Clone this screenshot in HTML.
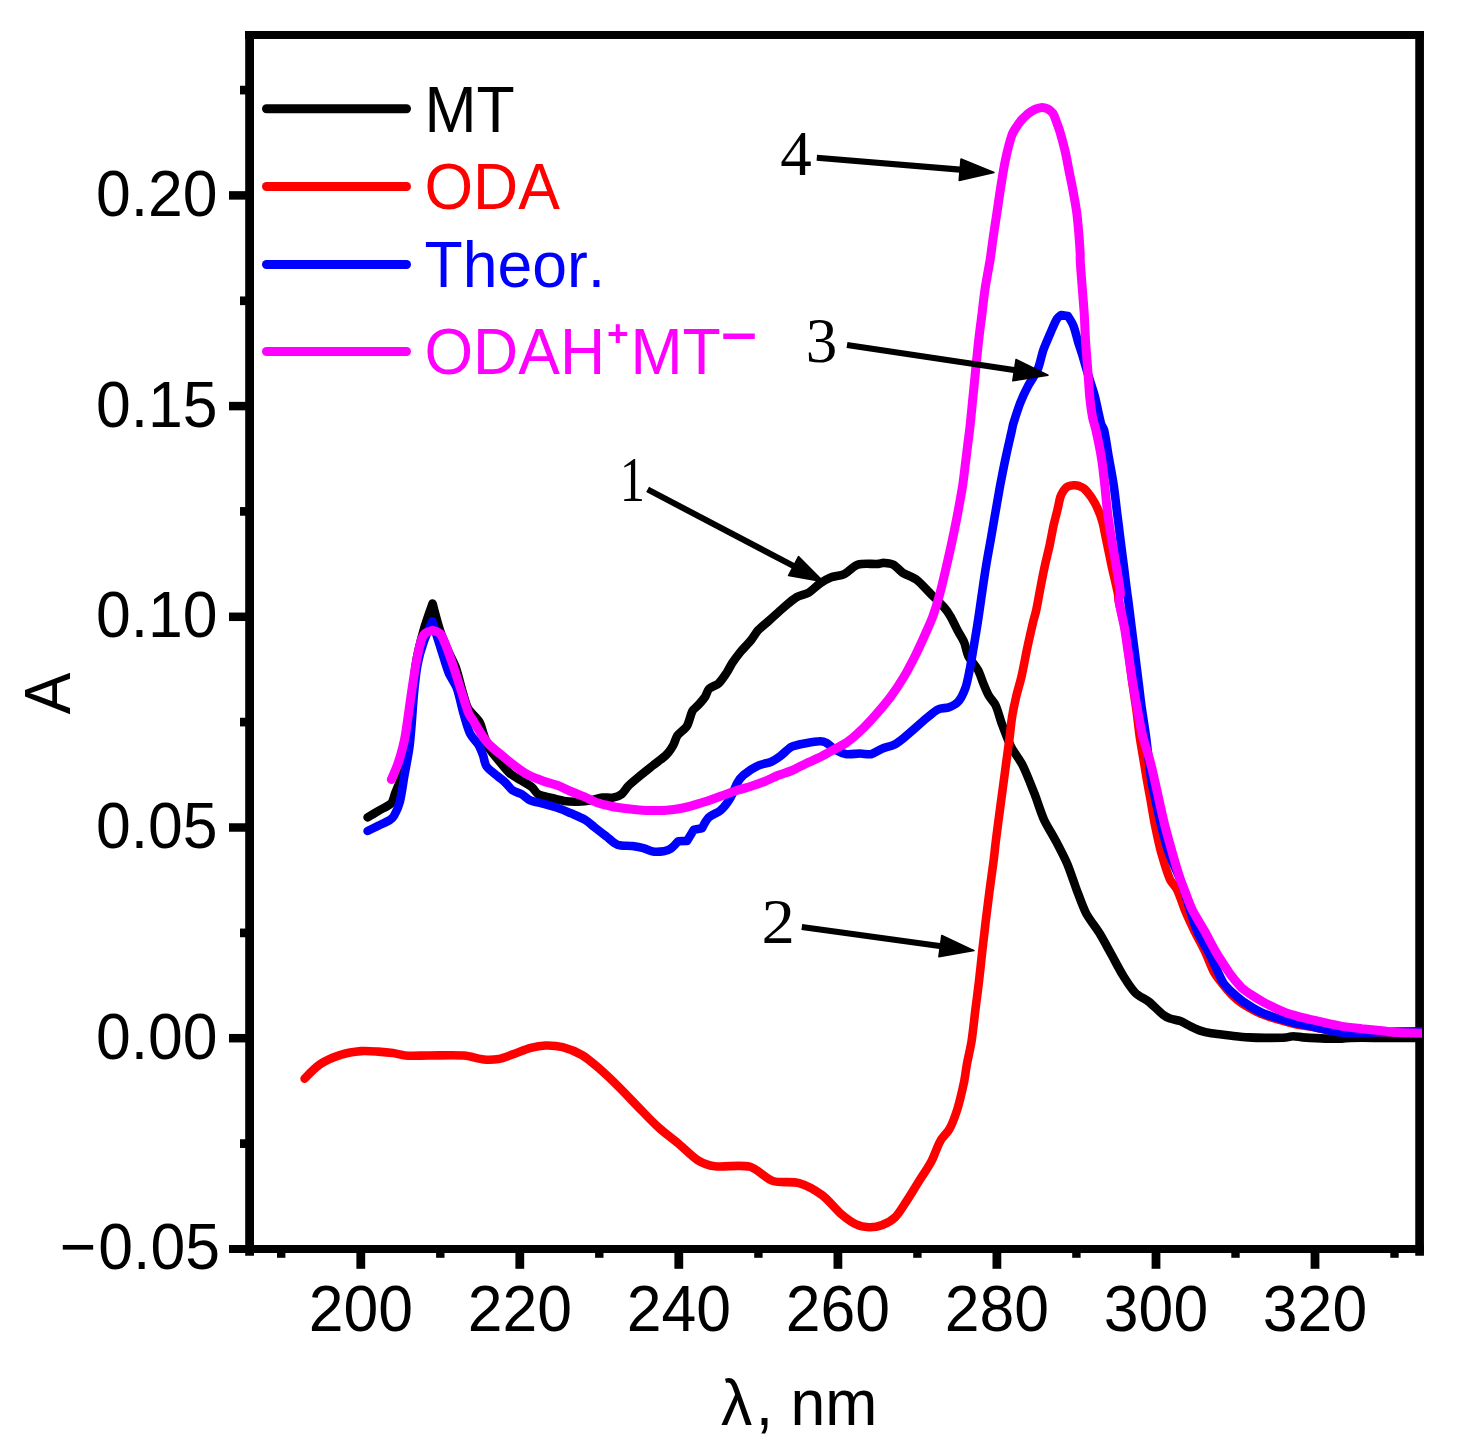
<!DOCTYPE html>
<html lang="en"><head><meta charset="utf-8"><title>UV absorption spectra</title>
<style>html,body{margin:0;padding:0;background:#fff}body{width:1465px;height:1453px;overflow:hidden}svg{display:block}text{font-family:"Liberation Sans",Arial,sans-serif;font-size:62.5px;fill:#000;font-kerning:none}.ser{font-family:"Liberation Serif","Times New Roman",serif;font-size:63px}.c{fill:none;stroke-linejoin:round;stroke-linecap:round;stroke-width:8.6}</style></head><body>
<svg width="1465" height="1453" viewBox="0 0 1465 1453">
<rect x="0" y="0" width="1465" height="1453" fill="#fff"/>
<defs><clipPath id="cp"><rect x="245" y="31" width="1177" height="1222"/></clipPath></defs>
<g stroke="#000" fill="none" stroke-linecap="butt">
<line x1="245" y1="35" x2="1424" y2="35" stroke-width="8"/>
<line x1="229" y1="1249" x2="1424" y2="1249" stroke-width="7.8"/>
<line x1="249.6" y1="31" x2="249.6" y2="1255.7" stroke-width="8.8"/>
<line x1="1419.6" y1="31" x2="1419.6" y2="1255.7" stroke-width="8.7"/>
<line x1="229" y1="195.4" x2="246" y2="195.4" stroke-width="8.5"/>
<line x1="229" y1="406.1" x2="246" y2="406.1" stroke-width="8.5"/>
<line x1="229" y1="616.8" x2="246" y2="616.8" stroke-width="8.5"/>
<line x1="229" y1="827.5" x2="246" y2="827.5" stroke-width="8.5"/>
<line x1="229" y1="1038.2" x2="246" y2="1038.2" stroke-width="8.5"/>
<line x1="240" y1="90.1" x2="246" y2="90.1" stroke-width="8.7"/>
<line x1="240" y1="300.8" x2="246" y2="300.8" stroke-width="8.7"/>
<line x1="240" y1="511.4" x2="246" y2="511.4" stroke-width="8.7"/>
<line x1="240" y1="722.1" x2="246" y2="722.1" stroke-width="8.7"/>
<line x1="240" y1="932.9" x2="246" y2="932.9" stroke-width="8.7"/>
<line x1="240" y1="1143.6" x2="246" y2="1143.6" stroke-width="8.7"/>
<line x1="360.8" y1="1252" x2="360.8" y2="1268.8" stroke-width="8.8"/>
<line x1="519.8" y1="1252" x2="519.8" y2="1268.8" stroke-width="8.8"/>
<line x1="678.8" y1="1252" x2="678.8" y2="1268.8" stroke-width="8.8"/>
<line x1="837.9" y1="1252" x2="837.9" y2="1268.8" stroke-width="8.8"/>
<line x1="996.9" y1="1252" x2="996.9" y2="1268.8" stroke-width="8.8"/>
<line x1="1156.0" y1="1252" x2="1156.0" y2="1268.8" stroke-width="8.8"/>
<line x1="1315.0" y1="1252" x2="1315.0" y2="1268.8" stroke-width="8.8"/>
<line x1="281.2" y1="1252" x2="281.2" y2="1257.8" stroke-width="8.4"/>
<line x1="440.3" y1="1252" x2="440.3" y2="1257.8" stroke-width="8.4"/>
<line x1="599.3" y1="1252" x2="599.3" y2="1257.8" stroke-width="8.4"/>
<line x1="758.4" y1="1252" x2="758.4" y2="1257.8" stroke-width="8.4"/>
<line x1="917.4" y1="1252" x2="917.4" y2="1257.8" stroke-width="8.4"/>
<line x1="1076.4" y1="1252" x2="1076.4" y2="1257.8" stroke-width="8.4"/>
<line x1="1235.5" y1="1252" x2="1235.5" y2="1257.8" stroke-width="8.4"/>
<line x1="1394.5" y1="1252" x2="1394.5" y2="1257.8" stroke-width="8.4"/>
</g>
<g clip-path="url(#cp)">
<path class="c" stroke="#000" d="M367.6,817.4C367.6,817.4 375.4,812.7 378.5,810.8C382.1,808.6 388.4,806.2 391.3,803.2C393.3,801.1 393.9,796.4 395.0,793.7C396.5,789.8 399.0,783.9 400.5,780.0C401.9,776.2 404.7,770.4 405.3,766.4C407.7,751.1 409.4,727.4 411.0,712.0C412.4,698.5 413.8,677.7 415.8,664.3C417.2,654.8 420.7,640.5 423.3,631.3C425.5,623.3 432.6,603.5 432.6,603.5C432.6,603.5 437.7,623.5 440.3,631.3C442.3,637.3 446.1,646.1 448.6,651.9C450.5,656.3 454.2,662.8 455.8,667.4C458.3,674.6 460.8,685.9 463.0,693.2C464.3,697.6 465.9,704.7 468.2,708.7C470.7,713.0 477.0,717.8 479.6,722.1C481.5,725.3 482.4,731.0 483.7,734.5C485.1,738.4 486.9,744.5 489.0,748.0C491.6,752.4 496.9,758.3 500.2,762.3C502.8,765.5 506.6,770.5 509.7,773.2C512.5,775.6 517.5,778.2 520.6,780.1C523.7,782.0 528.7,784.6 531.6,786.9C533.8,788.6 535.8,792.8 538.2,794.2C541.3,796.0 547.0,796.7 550.5,797.6C554.3,798.6 560.2,800.4 564.1,801.0C568.0,801.6 573.9,801.8 577.8,801.7C581.7,801.6 587.6,801.0 591.4,800.3C594.6,799.8 599.2,798.0 602.4,797.6C605.4,797.2 610.2,798.2 613.3,797.6C615.8,797.2 619.5,795.7 621.5,794.2C623.9,792.4 626.2,788.1 628.3,786.0C631.2,783.1 636.1,779.1 639.2,776.5C643.0,773.3 649.0,768.6 652.9,765.5C656.7,762.4 663.0,758.1 666.5,754.6C668.9,752.3 671.7,747.9 673.3,745.1C674.8,742.5 675.7,737.9 677.4,735.5C679.7,732.4 685.0,729.2 687.0,725.9C689.4,722.1 690.3,714.9 692.5,710.9C693.5,708.9 696.7,706.9 698.2,705.2C700.2,702.9 703.3,699.5 705.0,697.0C706.5,694.8 707.3,690.6 709.1,688.8C711.3,686.6 716.4,685.5 718.7,683.3C721.5,680.7 724.7,675.6 726.9,672.4C728.6,669.8 730.6,665.5 732.3,662.9C734.5,659.6 738.1,654.9 740.5,651.9C743.5,648.3 748.5,643.3 751.4,639.7C753.5,637.1 756.0,632.5 758.3,630.1C761.1,627.1 766.1,623.3 769.2,620.5C773.1,617.1 778.9,611.6 782.8,608.3C786.6,605.1 792.2,599.9 796.5,597.3C799.7,595.4 805.6,594.5 808.8,592.6C812.2,590.5 816.4,585.9 819.7,583.7C822.6,581.7 827.3,578.8 830.6,577.5C834.3,576.1 840.7,575.8 844.3,574.1C848.5,572.1 853.4,565.9 857.9,564.6C863.5,562.9 872.6,564.3 878.4,563.9C879.9,563.8 882.1,562.9 883.7,562.9C886.4,563.1 890.8,563.3 893.2,564.6C896.4,566.2 899.8,570.8 902.8,572.8C906.4,575.1 913.0,577.0 916.4,579.6C920.8,582.9 926.2,589.4 930.1,593.2C933.9,597.1 940.1,602.8 943.7,606.9C945.9,609.4 948.9,613.6 950.5,616.5C952.7,620.2 955.4,626.3 957.4,630.1C959.2,633.6 962.7,638.7 964.2,642.4C965.8,646.1 966.5,652.4 968.3,656.0C970.4,660.3 975.6,665.6 977.8,669.7C979.9,673.3 981.7,679.5 983.3,683.3C984.8,686.9 986.9,692.3 988.8,695.6C990.4,698.5 994.2,702.2 995.6,705.2C997.9,710.1 999.8,718.3 1001.7,723.4C1004.2,730.1 1007.9,740.4 1011.1,746.8C1013.9,752.4 1020.0,760.0 1022.8,765.6C1026.6,773.3 1031.3,785.6 1034.5,793.7C1037.3,800.9 1040.7,812.3 1043.9,819.4C1046.7,825.6 1052.4,834.4 1055.6,840.5C1059.0,847.0 1064.3,857.1 1067.3,863.9C1070.3,871.0 1073.9,882.4 1076.6,889.7C1079.2,896.3 1082.7,906.7 1086.0,913.1C1089.3,919.4 1096.3,928.0 1100.0,934.1C1103.6,940.0 1108.4,949.2 1111.8,955.2C1115.1,961.2 1119.8,970.5 1123.5,976.3C1126.5,981.1 1131.1,988.6 1135.2,992.7C1138.5,996.1 1145.5,999.1 1149.2,1002.0C1153.4,1005.4 1159.0,1011.6 1163.3,1014.9C1165.0,1016.3 1168.0,1017.8 1170.0,1018.5C1172.8,1019.5 1177.5,1020.0 1180.3,1021.1C1183.4,1022.3 1187.6,1024.9 1190.6,1026.3C1193.5,1027.7 1197.9,1029.9 1201.0,1030.9C1203.8,1031.9 1208.3,1032.8 1211.3,1033.3C1214.2,1033.8 1218.7,1034.1 1221.6,1034.5C1224.5,1034.9 1229.0,1035.5 1231.9,1035.8C1236.5,1036.3 1243.6,1037.1 1248.3,1037.4C1253.1,1037.7 1260.5,1037.9 1265.3,1037.9C1271.1,1037.9 1280.0,1037.9 1285.8,1037.5C1287.8,1037.4 1290.7,1036.2 1292.6,1036.2C1295.5,1036.1 1300.0,1037.2 1302.9,1037.4C1309.1,1037.8 1318.8,1038.4 1325.1,1038.6C1329.9,1038.7 1337.3,1038.7 1342.1,1038.6C1344.5,1038.5 1348.2,1037.9 1350.6,1037.9C1360.3,1037.7 1375.1,1037.9 1384.8,1037.9C1396.9,1037.9 1427.4,1037.9 1427.4,1037.9"/>
<path class="c" stroke="#f00" d="M304.6,1078.6C304.6,1078.6 315.4,1067.3 320.6,1063.9C326.0,1060.4 335.3,1056.5 341.4,1054.6C346.8,1052.9 355.5,1051.6 361.1,1051.1C366.0,1050.7 373.4,1051.3 378.3,1051.6C382.5,1051.9 388.9,1052.5 393.0,1053.1C396.6,1053.6 401.8,1055.3 405.3,1055.5C411.6,1056.0 421.2,1055.5 427.5,1055.5C437.9,1055.5 453.9,1054.8 464.3,1055.5C470.0,1055.9 478.3,1058.9 484.0,1059.5C488.1,1059.9 494.6,1059.7 498.7,1059.0C503.1,1058.2 509.3,1055.5 513.5,1054.1C518.4,1052.4 525.7,1049.3 530.7,1047.9C534.8,1046.8 541.2,1045.6 545.4,1045.5C550.3,1045.4 557.9,1045.9 562.6,1047.2C568.4,1048.7 577.1,1052.2 582.3,1055.3C587.6,1058.4 594.8,1064.8 599.5,1068.8C605.3,1073.8 613.7,1081.9 619.1,1087.2C625.4,1093.5 634.6,1103.4 640.8,1109.7C645.8,1114.9 653.5,1123.0 658.9,1127.8C664.5,1132.9 673.8,1139.8 679.7,1144.7C684.9,1149.0 692.0,1156.7 697.8,1160.2C702.1,1162.9 709.7,1165.6 714.7,1166.2C724.5,1167.4 740.1,1164.3 749.7,1166.7C757.2,1168.6 765.7,1178.6 773.0,1181.0C780.0,1183.3 791.9,1181.0 799.0,1183.1C806.2,1185.1 816.3,1190.9 822.3,1195.3C828.2,1199.6 835.0,1208.7 840.5,1213.4C844.6,1216.9 851.2,1222.0 856.1,1224.3C859.4,1226.0 865.3,1227.1 869.0,1227.2C872.7,1227.3 878.5,1226.4 882.0,1225.1C886.0,1223.6 891.9,1220.3 895.0,1217.3C898.6,1213.9 902.6,1207.2 905.3,1203.0C909.2,1197.3 914.6,1188.2 918.3,1182.3C922.0,1176.4 928.0,1167.7 931.3,1161.5C934.3,1155.9 937.2,1146.4 940.4,1140.8C942.4,1137.1 947.4,1132.8 949.4,1129.1C952.3,1123.9 955.4,1115.3 957.2,1109.7C959.5,1102.4 962.1,1091.1 963.7,1083.7C964.9,1078.3 965.9,1069.8 966.9,1064.3C968.1,1057.8 970.4,1048.1 971.5,1041.6C972.8,1033.1 974.2,1019.9 975.2,1011.3C976.3,1002.8 978.0,989.6 979.0,981.1C980.0,972.5 981.4,959.4 982.3,950.8C983.3,942.2 984.8,929.1 985.8,920.5C986.9,912.0 988.5,898.8 989.6,890.3C990.7,881.7 992.6,868.6 993.7,860.0C994.4,854.5 995.2,846.0 995.9,840.5C997.1,830.5 999.2,815.3 1000.5,805.4C1001.8,795.4 1003.9,780.2 1005.2,770.2C1006.5,760.3 1008.6,745.1 1009.9,735.1C1010.5,730.1 1011.2,722.4 1012.0,717.5C1012.9,711.6 1014.7,702.8 1016.1,697.0C1017.4,691.1 1020.2,682.4 1021.5,676.5C1023.3,668.8 1025.4,656.9 1027.0,649.2C1028.6,641.5 1031.3,629.6 1033.1,621.9C1034.0,618.5 1035.6,613.4 1036.3,609.9C1037.7,603.5 1039.3,593.5 1040.6,587.0C1041.7,581.2 1043.4,572.3 1044.7,566.5C1045.9,560.7 1048.2,551.9 1049.5,546.0C1050.7,540.3 1052.3,531.3 1053.5,525.6C1054.6,520.9 1056.5,513.8 1057.6,509.2C1058.5,505.7 1059.3,500.3 1060.4,496.9C1060.9,495.2 1062.2,492.9 1063.1,491.4C1063.9,490.2 1065.3,488.3 1066.5,487.3C1067.5,486.6 1069.4,486.0 1070.6,485.7C1071.7,485.4 1073.5,485.2 1074.7,485.3C1076.1,485.4 1078.2,485.8 1079.5,486.2C1080.9,486.8 1083.1,487.7 1084.3,488.7C1086.5,490.7 1089.4,494.4 1091.1,496.9C1093.3,500.2 1096.3,505.5 1097.9,509.2C1099.6,512.9 1101.6,518.9 1102.7,522.8C1103.9,527.4 1105.1,534.6 1106.1,539.2C1107.7,547.0 1110.2,558.8 1111.8,566.5C1113.5,574.3 1116.4,586.0 1118.0,593.8C1118.3,595.5 1118.2,598.3 1118.5,600.0C1120.1,607.8 1123.2,619.5 1124.7,627.3C1126.1,635.0 1127.7,646.9 1128.8,654.6C1129.9,662.3 1131.1,674.2 1132.2,681.9C1133.3,689.6 1135.2,701.5 1136.3,709.2C1137.4,716.9 1138.6,728.8 1139.7,736.5C1140.5,742.3 1142.1,751.2 1143.1,757.0C1144.2,763.5 1145.8,773.4 1146.9,779.9C1147.8,784.8 1149.2,792.4 1150.1,797.3C1151.5,805.0 1153.4,816.9 1154.9,824.6C1156.5,832.4 1158.9,844.3 1161.0,851.9C1163.2,859.7 1166.7,871.7 1169.9,879.2C1171.4,882.6 1175.7,886.7 1177.3,890.0C1180.0,895.6 1182.7,904.8 1185.1,910.6C1187.6,916.6 1191.8,925.5 1194.6,931.3C1197.5,937.2 1202.4,946.0 1205.2,951.9C1207.9,957.7 1211.2,966.9 1214.2,972.6C1215.9,975.8 1219.4,980.1 1221.6,982.9C1224.4,986.4 1228.7,991.7 1231.9,994.9C1234.6,997.6 1239.1,1001.5 1242.3,1003.5C1247.9,1007.0 1256.7,1012.1 1262.9,1014.5C1271.4,1017.9 1285.0,1021.5 1293.9,1023.8C1298.4,1024.9 1305.4,1025.7 1310.0,1026.5C1316.7,1027.7 1326.8,1030.1 1333.6,1030.8C1343.2,1031.8 1358.0,1032.0 1367.7,1032.2C1385.3,1032.5 1430.0,1032.6 1430.0,1032.6"/>
<path class="c" stroke="#00f" d="M367.6,831.0C367.6,831.0 375.4,827.1 378.5,825.6C381.8,824.0 386.9,821.9 390.0,819.9C391.4,819.0 393.4,817.1 394.2,815.6C396.2,811.9 398.8,806.0 399.8,801.9C401.7,794.3 403.2,782.3 404.6,774.6C406.0,766.9 408.3,755.1 409.4,747.3C410.2,741.5 410.9,732.6 411.4,726.8C412.2,717.3 413.1,702.7 414.0,693.2C414.8,685.0 416.1,672.4 417.6,664.3C418.8,657.7 421.6,647.9 423.8,641.6C425.8,635.7 432.3,621.4 432.3,621.4C432.3,621.4 439.2,643.3 441.9,651.9C443.8,657.8 446.3,666.9 448.6,672.6C450.5,677.2 455.1,683.4 456.8,688.1C459.4,695.2 461.5,706.6 463.6,713.9C465.3,719.6 467.5,728.4 470.1,733.7C471.8,737.2 476.3,741.3 478.3,744.6C480.0,747.5 481.9,752.3 483.1,755.5C484.2,758.5 484.6,763.7 486.5,766.4C488.9,769.8 494.3,773.3 497.4,776.0C499.7,778.0 503.4,780.7 505.6,782.8C507.7,784.8 510.1,788.6 512.5,790.3C514.9,792.0 519.5,792.9 522.0,794.4C524.4,795.8 527.4,799.2 530.0,800.3C533.7,801.9 539.8,802.7 543.7,803.8C547.5,804.8 553.5,806.5 557.3,807.8C561.2,809.2 567.1,811.7 571.0,813.3C574.9,815.0 581.0,817.3 584.6,819.5C587.6,821.2 591.5,824.8 594.2,827.0C597.6,829.7 602.9,833.8 606.5,836.5C609.5,838.9 613.7,843.4 617.4,844.7C621.4,846.2 628.2,845.5 632.4,846.1C635.5,846.5 640.3,847.3 643.3,848.1C646.1,848.9 650.0,851.1 652.9,851.5C655.9,852.0 660.7,851.7 663.8,851.3C665.8,851.0 668.9,850.0 670.6,848.8C673.1,847.1 678.1,841.3 678.1,841.3C678.1,841.3 687.0,840.9 687.0,840.9C687.0,840.9 693.8,829.7 693.8,829.7C693.8,829.7 702.0,828.3 702.0,828.3C702.0,828.3 706.2,819.9 708.8,817.4C711.7,814.6 718.0,812.8 720.9,810.1C724.2,807.2 728.2,801.6 730.5,797.8C732.9,793.8 734.9,786.9 737.3,782.8C738.8,780.2 741.8,776.6 744.1,774.6C747.7,771.7 753.6,767.7 757.8,765.8C761.4,764.0 767.7,763.3 771.4,761.7C774.4,760.4 778.4,757.4 781.0,755.5C784.2,753.2 788.3,748.4 791.9,746.7C795.5,744.9 801.7,744.0 805.6,743.2C809.4,742.5 815.3,741.3 819.2,741.2C821.2,741.1 824.3,741.6 826.0,742.6C829.1,744.2 832.6,748.4 835.6,750.1C838.5,751.7 843.2,753.7 846.5,754.2C850.4,754.7 856.3,753.5 860.2,753.5C863.3,753.5 868.1,754.8 871.1,754.2C874.5,753.4 878.8,750.0 882.0,748.7C885.4,747.3 891.0,746.2 894.3,744.6C897.3,743.1 901.3,739.9 903.9,737.8C910.7,732.2 920.6,723.1 927.3,717.5C930.3,715.0 934.8,710.9 938.3,709.3C941.1,707.9 946.3,708.4 949.2,707.2C952.2,706.0 956.7,703.6 958.7,701.1C961.5,697.8 964.1,691.5 965.6,687.4C967.3,682.6 968.6,674.8 969.7,669.7C971.0,663.1 972.6,653.1 973.8,646.5C974.9,639.5 976.8,628.9 977.8,621.9C979.1,614.0 980.7,601.8 981.9,593.8C983.0,586.1 984.7,574.2 986.0,566.5C987.2,558.8 989.4,547.0 990.8,539.2C992.1,531.5 994.2,519.6 995.5,511.9C996.9,504.2 998.9,492.3 1000.3,484.6C1001.8,476.9 1004.1,465.0 1005.8,457.3C1007.4,449.5 1010.2,437.7 1011.9,430.0C1012.3,428.3 1012.7,425.5 1013.3,423.8C1015.1,418.0 1017.9,409.0 1020.1,403.3C1022.1,398.2 1025.7,390.5 1028.3,385.6C1030.8,380.8 1035.8,374.2 1037.8,369.2C1040.0,364.0 1041.5,355.4 1043.3,350.1C1045.0,345.4 1048.1,338.3 1050.1,333.7C1052.0,329.4 1054.6,322.7 1057.0,318.7C1057.7,317.4 1061.1,315.0 1061.1,315.0C1061.1,315.0 1067.9,316.0 1067.9,316.0C1067.9,316.0 1072.2,322.6 1073.3,325.5C1075.1,330.0 1076.7,337.3 1078.1,341.9C1079.3,345.8 1081.3,351.7 1082.5,355.6C1084.0,360.6 1086.2,368.3 1087.7,373.3C1089.7,379.9 1093.2,389.9 1094.9,396.5C1096.9,404.2 1099.0,416.2 1101.1,423.8C1101.6,425.7 1103.6,428.1 1104.1,430.0C1105.8,437.6 1107.5,449.6 1108.8,457.3C1110.2,465.0 1112.5,476.8 1113.6,484.6C1114.8,492.3 1116.1,504.2 1117.0,511.9C1118.0,519.6 1119.5,531.5 1120.4,539.2C1121.4,547.0 1122.9,558.8 1123.9,566.5C1124.8,574.3 1126.3,586.1 1127.3,593.8C1127.5,595.6 1128.0,598.2 1128.2,600.0C1129.2,607.7 1130.6,619.6 1131.6,627.3C1132.6,635.0 1134.1,646.9 1135.1,654.6C1136.1,662.3 1137.5,674.2 1138.5,681.9C1139.5,689.6 1140.8,701.5 1141.9,709.2C1143.0,716.9 1145.0,728.7 1146.0,736.5C1147.6,748.8 1149.5,767.6 1151.3,779.9C1152.0,784.9 1153.8,792.4 1154.9,797.3C1156.6,805.0 1159.1,816.9 1161.0,824.6C1162.9,832.4 1165.9,844.3 1168.5,851.9C1171.3,859.8 1176.9,871.4 1180.1,879.2C1181.3,882.2 1183.0,886.9 1184.0,890.0C1185.9,895.8 1188.3,904.8 1190.2,910.6C1192.1,916.5 1194.7,925.6 1197.2,931.3C1199.9,937.4 1205.3,946.0 1208.3,951.9C1211.2,957.7 1215.4,966.8 1218.2,972.6C1219.6,975.5 1221.5,980.2 1223.4,982.9C1225.4,985.8 1229.3,989.7 1231.9,992.2C1234.7,994.9 1239.2,998.7 1242.3,1001.0C1245.1,1003.1 1249.6,1005.9 1252.6,1007.7C1255.4,1009.4 1259.9,1011.8 1262.9,1013.1C1265.7,1014.4 1270.3,1015.8 1273.2,1016.8C1276.1,1017.8 1280.6,1019.1 1283.6,1019.9C1286.5,1020.7 1291.0,1022.0 1293.9,1022.7C1296.8,1023.4 1301.3,1024.1 1304.2,1024.7C1308.9,1025.7 1316.0,1027.6 1320.7,1028.6C1326.5,1029.8 1335.3,1031.9 1341.2,1032.5C1347.0,1033.1 1355.9,1032.7 1361.7,1032.7C1367.5,1032.7 1376.2,1032.4 1382.0,1032.2C1386.4,1032.1 1393.1,1031.6 1397.5,1031.5C1406.7,1031.3 1430.0,1031.3 1430.0,1031.3"/>
<path class="c" stroke="#f0f" style="stroke-width:9px" d="M391.3,779.5C391.3,779.5 396.3,768.3 397.9,763.7C399.5,759.1 401.5,752.0 402.7,747.3C403.7,743.5 405.0,737.6 405.6,733.7C407.4,722.3 409.7,704.7 411.4,693.2C412.6,685.0 414.4,672.5 415.9,664.3C417.1,657.8 419.1,647.9 420.9,641.6C421.6,639.3 422.8,635.7 424.5,634.0C426.3,632.2 432.6,630.3 432.6,630.3C432.6,630.3 439.5,632.2 440.8,634.4C445.2,641.7 449.1,654.3 452.0,662.3C455.1,671.0 459.1,684.5 462.0,693.2C463.9,699.1 466.6,708.2 468.9,713.9C469.7,715.8 471.8,718.2 472.9,720.0C475.3,723.9 478.6,729.9 481.1,733.7C483.2,736.9 486.6,741.8 489.2,744.6C492.0,747.6 497.0,751.5 500.2,754.1C504.0,757.3 509.8,762.1 513.8,765.1C517.6,767.9 523.3,772.4 527.5,774.6C531.9,777.0 539.0,779.6 543.7,781.2C547.5,782.6 553.5,783.9 557.3,785.3C561.3,786.8 567.1,789.8 571.0,791.5C574.8,793.1 580.8,795.3 584.6,796.9C588.5,798.6 594.3,801.7 598.3,803.1C602.0,804.4 608.0,805.7 611.9,806.5C615.7,807.3 621.7,808.0 625.6,808.5C629.4,809.0 635.3,809.6 639.2,809.9C643.1,810.2 649.0,810.5 652.9,810.6C656.7,810.6 662.7,810.6 666.5,810.3C670.4,810.0 676.3,809.3 680.2,808.5C684.1,807.8 690.0,806.2 693.8,805.1C697.7,804.0 703.6,802.3 707.5,801.0C712.1,799.5 719.1,796.8 723.7,795.1C727.5,793.7 733.4,791.6 737.3,790.3C741.1,789.1 747.1,787.5 751.0,786.2C754.9,785.0 760.8,783.0 764.6,781.5C768.5,779.9 774.3,776.9 778.3,775.3C782.1,773.8 788.1,772.1 791.9,770.5C795.9,768.9 801.7,765.6 805.6,763.7C809.4,761.9 815.4,759.5 819.2,757.6C823.2,755.6 829.0,752.2 832.9,750.1C836.7,747.9 842.8,745.0 846.5,742.6C849.8,740.3 854.5,736.4 857.4,733.7C861.5,730.0 867.4,724.1 871.1,720.0C876.8,713.7 885.3,703.8 890.5,697.0C894.7,691.4 900.5,682.5 904.1,676.5C907.5,670.9 912.1,661.9 915.1,656.0C917.9,650.3 922.0,641.4 924.6,635.6C927.0,630.2 930.8,622.0 932.8,616.5C935.0,610.4 937.9,600.9 939.6,594.6C941.8,586.7 944.5,574.5 946.4,566.5C948.2,558.8 950.9,547.0 952.5,539.2C954.2,531.5 956.5,519.7 958.0,511.9C959.4,504.2 961.6,492.4 962.8,484.6C963.9,476.9 965.2,465.0 966.2,457.3C967.1,449.6 968.6,437.7 969.6,430.0C969.8,428.3 970.1,425.6 970.3,423.8C971.1,416.1 972.2,404.3 973.0,396.5C973.8,388.8 975.0,377.0 975.7,369.2C976.5,361.5 977.6,349.6 978.5,341.9C979.3,334.2 980.9,322.3 981.9,314.6C982.8,306.9 984.1,295.0 985.3,287.3C986.5,279.5 988.8,267.8 990.1,260.0C991.0,254.4 992.0,245.8 992.8,240.2C993.9,232.4 995.7,220.6 996.9,212.9C998.1,205.1 999.7,193.3 1001.0,185.6C1002.2,177.8 1004.1,165.9 1005.8,158.3C1007.2,151.6 1009.7,141.5 1011.9,135.1C1012.7,132.6 1014.9,129.3 1016.3,127.1C1017.6,125.0 1019.9,121.9 1021.5,120.0C1022.7,118.6 1024.8,116.5 1026.2,115.3C1027.5,114.1 1029.6,112.5 1031.0,111.6C1032.5,110.7 1034.9,109.4 1036.5,108.8C1038.0,108.3 1040.4,107.5 1041.9,107.5C1043.5,107.5 1046.0,108.1 1047.4,108.8C1049.2,109.8 1051.7,111.6 1052.9,113.2C1054.3,115.3 1055.4,119.1 1056.3,121.4C1057.3,124.1 1058.9,128.2 1059.7,131.0C1061.4,136.7 1063.8,145.6 1065.2,151.4C1066.5,157.2 1068.1,166.1 1069.2,171.9C1070.4,177.7 1072.3,186.6 1073.3,192.4C1074.4,198.2 1076.0,207.0 1076.8,212.9C1077.5,218.6 1078.3,227.5 1078.8,233.3C1079.3,239.1 1079.9,248.0 1080.2,253.8C1080.3,255.6 1080.1,258.3 1080.2,260.0C1080.6,267.7 1081.6,279.6 1082.2,287.3C1082.8,295.0 1083.8,306.9 1084.3,314.6C1084.7,322.3 1085.1,334.2 1085.6,341.9C1086.1,349.7 1087.1,361.5 1087.7,369.2C1088.3,377.0 1089.0,388.8 1089.7,396.5C1090.3,402.3 1091.4,411.2 1092.5,417.0C1093.1,420.7 1095.1,426.3 1095.9,430.0C1097.6,437.7 1100.1,449.5 1101.3,457.3C1102.6,465.0 1103.9,476.9 1104.7,484.6C1105.6,492.3 1106.5,504.2 1107.5,511.9C1108.4,519.7 1110.3,531.5 1111.6,539.2C1112.8,547.0 1115.1,558.8 1116.3,566.5C1117.6,574.2 1119.8,586.0 1120.4,593.8C1120.6,595.6 1118.7,598.2 1118.9,600.0C1119.8,607.8 1123.0,619.5 1124.4,627.3C1125.8,635.0 1127.3,646.9 1128.5,654.6C1129.7,662.3 1131.3,674.2 1132.6,681.9C1133.9,689.7 1136.0,701.5 1137.4,709.2C1138.8,717.0 1140.9,728.8 1142.8,736.5C1144.2,742.4 1147.3,751.2 1149.0,757.0C1150.0,760.7 1151.4,766.3 1152.3,770.0C1154.1,777.7 1156.7,789.6 1158.4,797.3C1160.1,805.0 1162.7,816.9 1164.6,824.6C1166.6,832.4 1169.9,844.2 1172.1,851.9C1174.3,859.7 1177.8,871.5 1180.3,879.2C1181.3,882.3 1183.2,887.0 1184.4,890.0C1186.7,895.8 1189.8,905.0 1192.6,910.6C1195.6,916.7 1201.4,925.4 1204.7,931.3C1207.9,937.1 1212.4,946.2 1215.8,951.9C1219.3,957.9 1225.2,966.8 1229.1,972.6C1230.8,975.0 1233.6,978.5 1235.5,980.8C1237.4,983.0 1240.1,986.5 1242.3,988.4C1245.0,990.7 1249.6,993.7 1252.6,995.6C1255.5,997.5 1259.9,1000.1 1262.9,1001.8C1264.9,1002.9 1268.0,1004.5 1270.0,1005.5C1272.2,1006.6 1275.7,1008.3 1278.0,1009.3C1280.4,1010.4 1284.0,1012.0 1286.4,1012.9C1288.7,1013.7 1292.2,1014.7 1294.5,1015.4C1296.8,1016.1 1300.4,1017.1 1302.8,1017.7C1305.1,1018.3 1308.7,1019.1 1311.0,1019.6C1313.3,1020.1 1316.8,1020.8 1319.1,1021.3C1322.2,1022.0 1326.9,1023.2 1330.0,1023.9C1333.2,1024.6 1338.0,1025.6 1341.2,1026.1C1347.0,1027.0 1355.9,1028.0 1361.7,1028.7C1367.5,1029.3 1376.3,1030.1 1382.1,1030.7C1386.5,1031.2 1393.1,1032.4 1397.5,1032.6C1406.7,1033.1 1430.0,1033.2 1430.0,1033.2"/>
</g>
<g stroke-width="9" stroke-linecap="round" fill="none">
<line x1="266.5" y1="108.7" x2="406.5" y2="108.7" stroke="#000"/>
<line x1="266.5" y1="186.5" x2="406.5" y2="186.5" stroke="#f00"/>
<line x1="266.5" y1="264.5" x2="406.5" y2="264.5" stroke="#00f"/>
<line x1="266.5" y1="351.5" x2="406.5" y2="351.5" stroke="#f0f"/>
</g>
<text transform="translate(424.5,131.5) scale(1,1.05)">MT</text>
<text transform="translate(424.5,209.2) scale(1,1.05)" style="fill:#f00;">ODA</text>
<text transform="translate(424.5,286.8) scale(1,1.05)" style="fill:#00f;">Theor.</text>
<text transform="translate(424.5,374) scale(1,1.05)" style="fill:#f0f;">ODAH</text>
<text transform="translate(607.0,346.3) scale(1,1.0)" style="fill:#f0f;font-weight:bold;font-size:37px">+</text>
<text transform="translate(630.5,374) scale(1,1.05)" style="fill:#f0f;">MT</text>
<text transform="translate(720.7,356.8) scale(1,1.0)" style="fill:#f0f;stroke:#f0f;stroke-width:1px">−</text>
<text transform="translate(217.6,215.8) scale(1,1.05)" text-anchor="end">0.20</text>
<text transform="translate(217.6,426.5) scale(1,1.05)" text-anchor="end">0.15</text>
<text transform="translate(217.6,637.2) scale(1,1.05)" text-anchor="end">0.10</text>
<text transform="translate(217.6,847.9) scale(1,1.05)" text-anchor="end">0.05</text>
<text transform="translate(217.6,1058.6) scale(1,1.05)" text-anchor="end">0.00</text>
<text transform="translate(220,1269.3) scale(1,1.05)" text-anchor="end">−<tspan dx="2.2">0.05</tspan></text>
<text transform="translate(360.8,1331.4) scale(1,1.05)" text-anchor="middle">200</text>
<text transform="translate(519.8,1331.4) scale(1,1.05)" text-anchor="middle">220</text>
<text transform="translate(678.8,1331.4) scale(1,1.05)" text-anchor="middle">240</text>
<text transform="translate(837.9,1331.4) scale(1,1.05)" text-anchor="middle">260</text>
<text transform="translate(996.9,1331.4) scale(1,1.05)" text-anchor="middle">280</text>
<text transform="translate(1156.0,1331.4) scale(1,1.05)" text-anchor="middle">300</text>
<text transform="translate(1315.0,1331.4) scale(1,1.05)" text-anchor="middle">320</text>
<text transform="translate(799.2,1425.4) scale(1,1.05)" text-anchor="middle">λ<tspan dx="3.6">, nm</tspan></text>
<text transform="translate(70.2,693.5) rotate(-90) scale(1,1.05)" text-anchor="middle">A</text>
<line x1="647.6" y1="489.4" x2="796.2" y2="567.4" stroke="#000" stroke-width="6.1"/>
<polygon points="823.6,581.8 788.5,575.5 798.5,556.5" fill="#000" stroke="#000" stroke-width="1.5" stroke-linejoin="round"/>
<line x1="801.8" y1="927.1" x2="943.3" y2="946.4" stroke="#000" stroke-width="6.1"/>
<polygon points="974.0,950.6 938.9,956.7 941.8,935.4" fill="#000" stroke="#000" stroke-width="1.5" stroke-linejoin="round"/>
<line x1="847.0" y1="344.9" x2="1017.3" y2="370.6" stroke="#000" stroke-width="6.1"/>
<polygon points="1048.0,375.2 1012.8,380.8 1016.0,359.5" fill="#000" stroke="#000" stroke-width="1.5" stroke-linejoin="round"/>
<line x1="816.8" y1="157.7" x2="963.1" y2="169.9" stroke="#000" stroke-width="6.1"/>
<polygon points="994.0,172.5 959.2,180.4 961.0,159.0" fill="#000" stroke="#000" stroke-width="1.5" stroke-linejoin="round"/>
<text class="ser n1" transform="translate(632.4,501.3) scale(0.8,1.02)" text-anchor="middle">1</text>
<text class="ser n2" transform="translate(778.2,943) scale(1.06,1.02)" text-anchor="middle">2</text>
<text class="ser n3" transform="translate(821.6,361.7) scale(1,1.02)" text-anchor="middle">3</text>
<text class="ser n4" transform="translate(796,174.9) scale(1,1.02)" text-anchor="middle">4</text>
</svg></body></html>
